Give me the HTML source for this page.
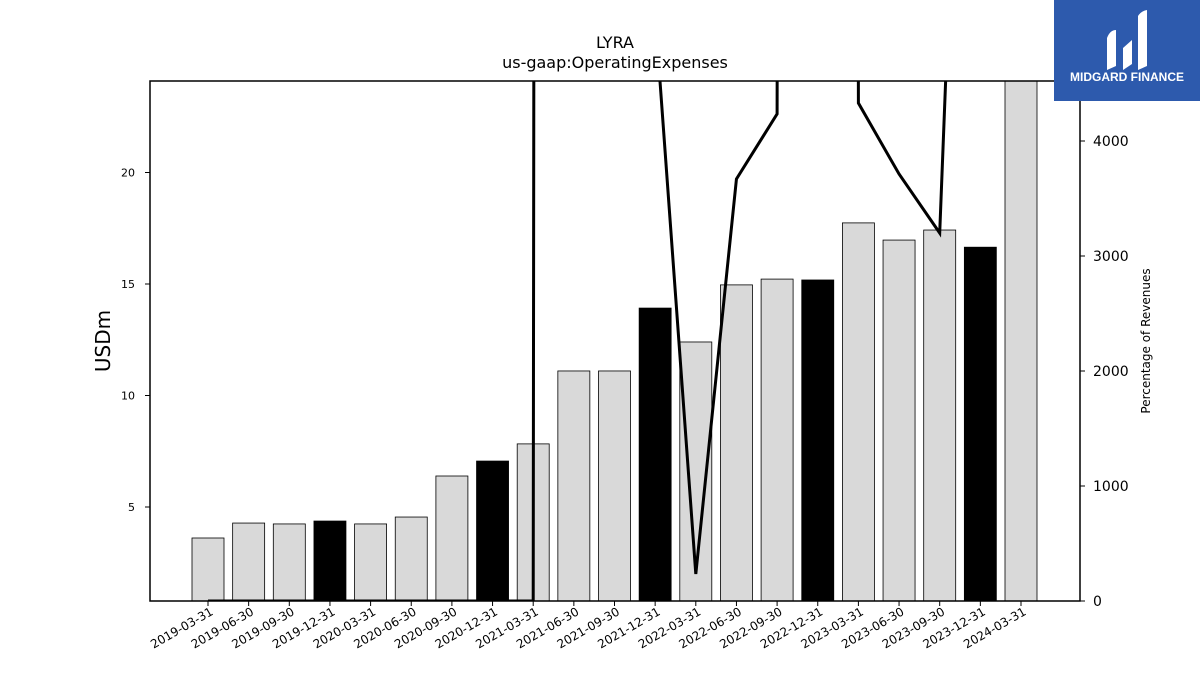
<!DOCTYPE html>
<html><head><meta charset="utf-8"><style>
body{margin:0;background:#fff;font-family:"Liberation Sans","DejaVu Sans",sans-serif}
svg text{font-family:"DejaVu Sans","Liberation Sans",sans-serif}
</style></head><body>
<svg id="chart" width="1200" height="675" viewBox="0 0 1200 675">
<defs><clipPath id="plotclip"><rect x="150" y="81" width="930" height="520"/></clipPath></defs>
<text x="615" y="48" font-size="16" text-anchor="middle">LYRA</text>
<text x="615" y="68" font-size="16" text-anchor="middle">us-gaap:OperatingExpenses</text>
<g id="bars" clip-path="url(#plotclip)"></g>
<g id="line" clip-path="url(#plotclip)"></g>
<rect x="150" y="81" width="930" height="520" fill="none" stroke="#000" stroke-width="1.5"/>
<g id="axes"></g>
<text transform="translate(110,341) rotate(-90)" font-size="20" text-anchor="middle">USDm</text>
<text transform="translate(1150,341) rotate(-90)" font-size="12" text-anchor="middle">Percentage of Revenues</text>
<g>
<rect x="1054" y="0" width="146" height="101" fill="#2d5aad"/>
<path d="M1107 70 L1107 38 Q1110 30 1116 30 L1116 66 Z M1123 70 L1123 48 L1132 40 L1132 64 Z M1138 70 L1138 16 Q1141 11 1147 10 L1147 66 Z" fill="#fff"/>
<text x="1127" y="81" font-size="12" font-weight="bold" fill="#fff" text-anchor="middle" style="font-family:'Liberation Sans',sans-serif">MIDGARD FINANCE</text>
</g>
</svg>
<script>
const categories=["2019-03-31","2019-06-30","2019-09-30","2019-12-31","2020-03-31","2020-06-30","2020-09-30","2020-12-31","2021-03-31","2021-06-30","2021-09-30","2021-12-31","2022-03-31","2022-06-30","2022-09-30","2022-12-31","2023-03-31","2023-06-30","2023-09-30","2023-12-31","2024-03-31"];
const expenses=[3.61,4.28,4.24,4.37,4.24,4.55,6.39,7.06,7.83,11.1,11.1,13.92,12.4,14.96,15.22,15.18,17.74,16.97,17.42,16.65,26];
const pctRevenue=[0,0,0,0,0,0,0,0,0,300000,200000,5100,235,3670,4235,200000,4330,3713,3200,12250,4600];
const leftTicks=[5,10,15,20];
const rightTicks=[0,1000,2000,3000,4000];
const NS="http://www.w3.org/2000/svg";
const yL=v=>618.5-(v)*22.3;
const yR=v=>601-v*0.115;
const xC=i=>208+i*40.65;
function mk(t,a,p){const e=document.createElementNS(NS,t);for(const k in a)e.setAttribute(k,a[k]);p.appendChild(e);return e;}
const bars=document.getElementById('bars'),line=document.getElementById('line'),axes=document.getElementById('axes');
categories.forEach((c,i)=>{
  const black=c.endsWith('12-31');
  const r=mk('rect',{x:xC(i)-16,y:yL(expenses[i]),width:32,height:618.5-yL(expenses[i]),fill:black?'#000':'#d9d9d9',stroke:'#000','stroke-width':0.8},bars);
  
  
  mk('line',{x1:xC(i),x2:xC(i),y1:601,y2:606,stroke:'#000'},axes);
  const t=mk('text',{transform:`translate(${xC(i)+6},${614}) rotate(-30)`,'font-size':12,'text-anchor':'end'},axes);
  t.textContent=c;
  
  
});
const pts=pctRevenue.map((v,i)=>xC(i)+','+yR(v)).join(' ');
const pl=mk('polyline',{points:pts,fill:'none',stroke:'#000','stroke-width':3,'stroke-linejoin':'miter'},line);


leftTicks.forEach(v=>{
  mk('line',{x1:145,x2:150,y1:yL(v),y2:yL(v),stroke:'#000'},axes);
  const t=mk('text',{x:135,y:yL(v)+4,'font-size':11,'text-anchor':'end'},axes);
  t.textContent=v;
  
  
});
rightTicks.forEach(v=>{
  mk('line',{x1:1080,x2:1085,y1:yR(v),y2:yR(v),stroke:'#000'},axes);
  const t=mk('text',{x:1093,y:yR(v)+5,'font-size':14},axes);
  t.textContent=v;
  
  
});
</script>
</body></html>
